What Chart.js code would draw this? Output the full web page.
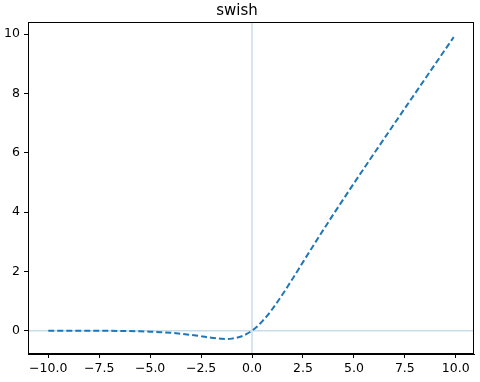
<!DOCTYPE html>
<html>
<head>
<meta charset="utf-8">
<script src="https://cdn.jsdelivr.net/npm/chart.js@4"></script>
<style>
  html, body { margin: 0; padding: 0; background: #fff; }
  #wrap { width: 480px; height: 382px; }
</style>
</head>
<body>
<div id="wrap"><canvas id="chart" width="480" height="382"></canvas></div>
<script>
// Values
const xValues = [-10, -9.5, -9, -8.5, -8, -7.5, -7, -6.5, -6, -5.5, -5, -4.5, -4, -3.5, -3, -2.5, -2, -1.5, -1.25, -1, -0.5,
                 0, 0.5, 1, 1.5, 2, 2.5, 3, 3.5, 4, 4.5, 5, 5.5, 6, 6.5, 7, 7.5, 8, 8.5, 9, 9.5, 9.9];
const swishValues = [-0.0005, -0.0007, -0.0011, -0.0017, -0.0027, -0.0041, -0.0064, -0.0098, -0.0148, -0.0224, -0.0335,
                     -0.0497, -0.0719, -0.1026, -0.1423, -0.1896, -0.2384, -0.2738, -0.2785, -0.2689, -0.1888,
                     0, 0.3112, 0.7311, 1.2262, 1.7616, 2.3104, 2.8577, 3.3974, 3.9281, 4.4503, 4.9665, 5.4776,
                     5.9852, 6.4902, 6.9936, 7.4959, 7.9973, 8.4983, 8.9989, 9.4993, 9.8995];
const xTicks = [-10, -7.5, -5, -2.5, 0, 2.5, 5, 7.5, 10];
const yTicks = [0, 2, 4, 6, 8, 10];
const chartTitle = "swish";

const FONT = "'DejaVu Sans', sans-serif";

// Format tick like matplotlib (unicode minus)
function fmtTick(v, digits) {
    let s = Math.abs(v).toFixed(digits);
    return v < 0 ? "\u2212" + s : s;
}

// Frame around the axes + light reference lines at 0
const framePlugin = {
    id: "frame",
    beforeDatasetsDraw(chart) {
        const { ctx, chartArea, scales } = chart;
        const x0 = scales.x.getPixelForValue(0);
        const y0 = scales.y.getPixelForValue(0);
        ctx.save();
        ctx.strokeStyle = "rgba(31,119,180,0.25)";
        ctx.lineWidth = 1.5;
        ctx.beginPath();
        ctx.moveTo(x0, chartArea.top);
        ctx.lineTo(x0, chartArea.bottom);
        ctx.moveTo(chartArea.left, y0);
        ctx.lineTo(chartArea.right, y0);
        ctx.stroke();
        ctx.restore();
    },
    afterDraw(chart) {
        const { ctx, chartArea } = chart;
        ctx.save();
        ctx.strokeStyle = "#000";
        ctx.lineWidth = 1;
        ctx.strokeRect(Math.round(chartArea.left) + 0.5, Math.round(chartArea.top) + 0.5,
            Math.round(chartArea.right - chartArea.left) - 1, Math.round(chartArea.bottom - chartArea.top) - 1);
        ctx.restore();
    }
};

const points = xValues.map((x, i) => ({ x: x, y: swishValues[i] }));

new Chart(document.getElementById("chart").getContext("2d"), {
    type: "line",
    data: {
        datasets: [{
            label: chartTitle,
            data: points,
            borderColor: "#1f77b4",
            borderWidth: 2,
            borderDash: [6, 3],
            pointRadius: 0,
            fill: false,
            cubicInterpolationMode: "monotone"
        }]
    },
    options: {
        responsive: false,
        animation: false,
        events: [],
        layout: { padding: { left: 0, right: 6, top: 0, bottom: 0 } },
        plugins: {
            legend: { display: false },
            tooltip: { enabled: false },
            title: {
                display: true,
                text: chartTitle,
                color: "#000",
                font: { family: FONT, size: 15, weight: "normal", lineHeight: 1.2 },
                padding: { top: 2, bottom: 2 }
            }
        },
        scales: {
            x: {
                type: "linear",
                min: -10.995,
                max: 10.895,
                afterBuildTicks: s => { s.ticks = xTicks.map(v => ({ value: v })); },
                afterFit: s => { s.height = 28; s.paddingLeft = 0; s.paddingRight = 0; },
                ticks: {
                    color: "#000",
                    padding: 3,
                    maxRotation: 0,
                    autoSkip: false,
                    font: { family: FONT, size: 12.5 },
                    callback: v => fmtTick(v, 1)
                },
                grid: { drawOnChartArea: false, drawTicks: true, tickLength: 4, color: "#000" },
                border: { display: true, color: "#000" }
            },
            y: {
                type: "linear",
                min: -0.787,
                max: 10.408,
                afterBuildTicks: s => { s.ticks = yTicks.map(v => ({ value: v })); },
                afterFit: s => { s.width = 28; s.paddingTop = 0; s.paddingBottom = 0; },
                ticks: {
                    color: "#000",
                    padding: 4,
                    autoSkip: false,
                    font: { family: FONT, size: 12.5 },
                    callback: v => fmtTick(v, 0)
                },
                grid: { drawOnChartArea: false, drawTicks: true, tickLength: 4, color: "#000" },
                border: { display: true, color: "#000" }
            }
        }
    },
    plugins: [framePlugin]
});
</script>
</body>
</html>
